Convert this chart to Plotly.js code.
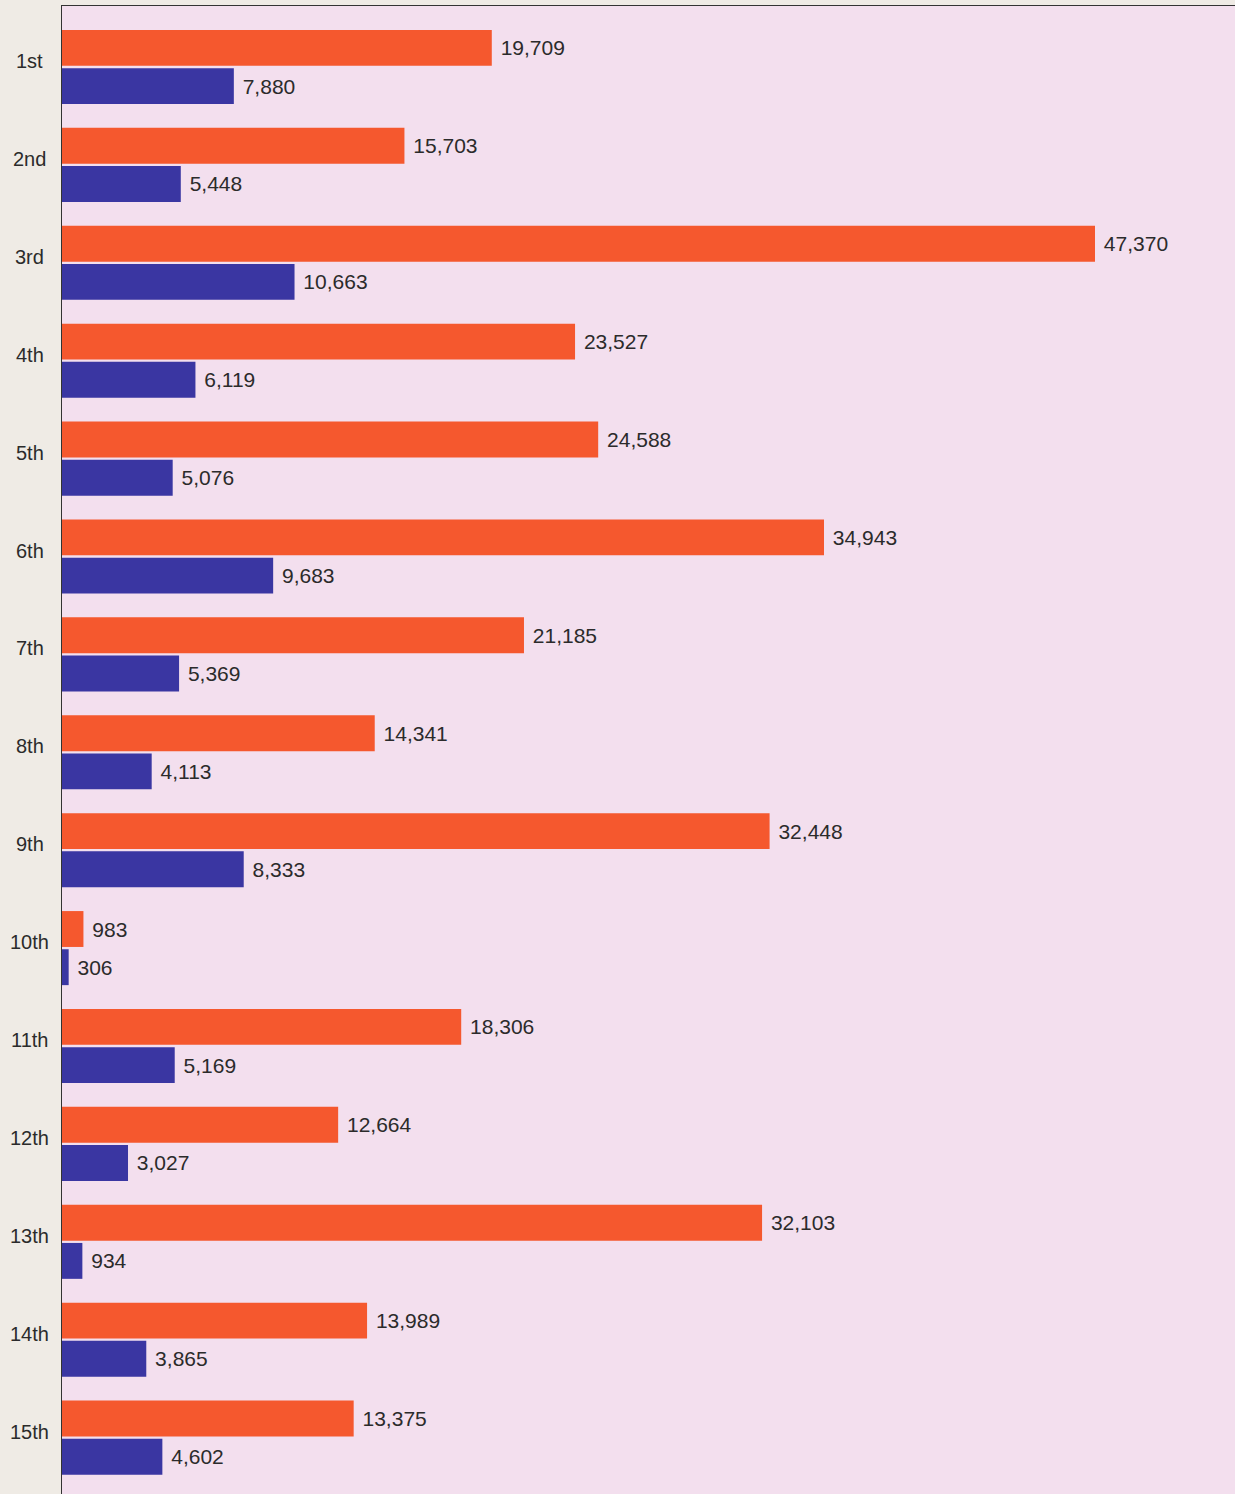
<!DOCTYPE html>
<html>
<head>
<meta charset="utf-8">
<script src="https://cdn.plot.ly/plotly-3.0.1.min.js"></script>
<style>html,body{margin:0;padding:0;background:#efebe5;}#chart{width:1235px;height:1494px;}</style>
</head>
<body>
<div id="chart"></div>
<script>
const categories = ["1st","2nd","3rd","4th","5th","6th","7th","8th","9th","10th","11th","12th","13th","14th","15th"];
const orangeValues = [19709,15703,47370,23527,24588,34943,21185,14341,32448,983,18306,12664,32103,13989,13375];
const blueValues = [7880,5448,10663,6119,5076,9683,5369,4113,8333,306,5169,3027,934,3865,4602];

const fmt = v => '\u00a0' + v.toLocaleString('en-US');
const FONT = 'Liberation Sans, Arial, sans-serif';
const labelFont = {family: FONT, size: 21, color: '#2b2b2b'};

const traces = [
  {type: 'bar', orientation: 'h', y: categories, x: orangeValues,
   text: orangeValues.map(fmt), textposition: 'outside', cliponaxis: false,
   textfont: labelFont, marker: {color: '#f5582e'}, hoverinfo: 'x+y'},
  {type: 'bar', orientation: 'h', y: categories, x: blueValues,
   text: blueValues.map(fmt), textposition: 'outside', cliponaxis: false,
   textfont: labelFont, marker: {color: '#3a36a2'}, hoverinfo: 'x+y'}
];

const annotations = categories.map(c => ({
  xref: 'paper', yref: 'y', x: -0.0273, y: c, text: c, showarrow: false,
  xanchor: 'center', yanchor: 'middle', yshift: 6,
  font: {family: FONT, size: 20, color: '#2b2b2b'}
}));

const layout = {
  width: 1235, height: 1494,
  margin: {l: 62, r: 0, t: 6, b: 0},
  paper_bgcolor: '#efebe5',
  plot_bgcolor: '#f3dfee',
  barmode: 'group',
  bargap: 0.22,
  bargroupgap: 0.06,
  showlegend: false,
  font: {family: FONT, color: '#2b2b2b'},
  annotations: annotations,
  xaxis: {range: [0, 53790], side: 'top', showline: true, linecolor: '#333', linewidth: 1.5,
          showgrid: false, zeroline: false, showticklabels: false, ticks: ''},
  yaxis: {type: 'category', range: [14.576, -0.623], showline: true, linecolor: '#333', linewidth: 1.5,
          showgrid: false, zeroline: false, ticks: '', showticklabels: false}
};

Plotly.newPlot('chart', traces, layout, {displayModeBar: false, staticPlot: true});
</script>
</body>
</html>
